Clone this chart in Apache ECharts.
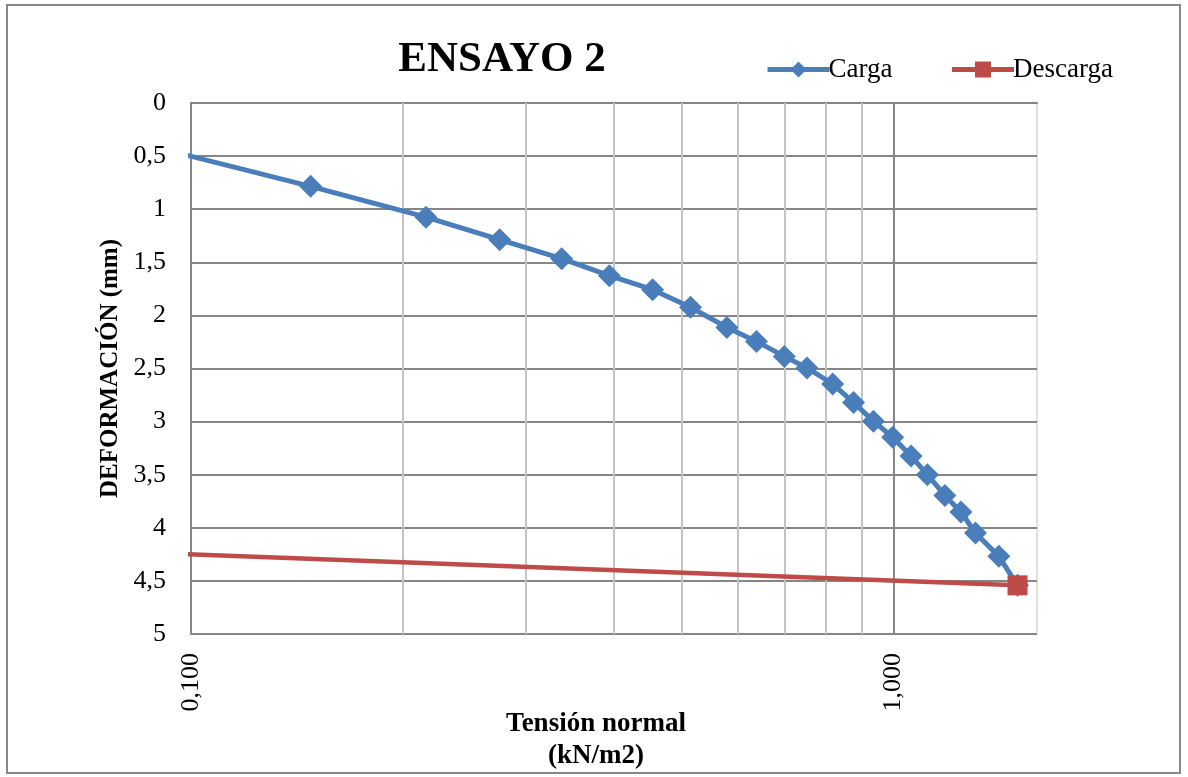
<!DOCTYPE html>
<html>
<head>
<meta charset="utf-8">
<title>ENSAYO 2</title>
<script src="https://cdn.jsdelivr.net/npm/echarts@6/dist/echarts.min.js"></script>
<style>
  html, body { margin: 0; padding: 0; background: #fff; }
  #chart { width: 1188px; height: 777px; }
</style>
</head>
<body>
<div id="chart"></div>
<script>
// Tensión normal (kN/m2) vs deformación (mm)
const cargaX = [0.05, 0.148, 0.216, 0.275, 0.337, 0.394, 0.454, 0.514, 0.579, 0.638, 0.699,
  0.753, 0.819, 0.877, 0.936, 0.997, 1.059, 1.117, 1.183, 1.247, 1.308, 1.412, 1.501]
const cargaY = [0, 0.785, 1.075, 1.287, 1.466, 1.626, 1.758, 1.923, 2.113, 2.245, 2.386,
  2.495, 2.646, 2.82, 2.996, 3.147, 3.325, 3.5, 3.695, 3.851, 4.049, 4.269, 4.542]
const descargaX = [1.501, 0.01]
const descargaY = [4.542, 4.0]

const majorX = [1]
const minorX = [0.2, 0.3, 0.4, 0.5, 0.6, 0.7, 0.8, 0.9]

const FONT = 'Liberation Serif'
const zip = (xs, ys) => xs.map((x, i) => [x, ys[i]])

const chart = echarts.init(document.getElementById('chart'))

const option = {
  backgroundColor: '#fff',
  animation: false,
  textStyle: { fontFamily: FONT, color: '#000' },
  graphic: [
    {
      type: 'rect',
      shape: { x: 7, y: 5, width: 1173, height: 768 },
      style: { fill: 'none', stroke: '#888', lineWidth: 2 },
      silent: true,
    },
  ],
  title: [
    {
      text: 'ENSAYO 2',
      left: 497,
      top: 33,
      textAlign: 'center',
      textStyle: { fontFamily: FONT, fontSize: 43, fontWeight: 'bold', color: '#000' },
    },
    {
      text: 'Tensión normal\n(kN/m2)',
      left: 591,
      top: 703,
      textAlign: 'center',
      textStyle: { fontFamily: FONT, fontSize: 27, fontWeight: 'bold', color: '#000', lineHeight: 32 },
    },
  ],
  legend: {
    left: 760,
    top: 51,
    itemWidth: 62,
    itemHeight: 20,
    itemGap: 57,
    lineStyle: { width: 5 },
    textStyle: { fontFamily: FONT, fontSize: 27, color: '#000', padding: [0, 0, 0, -6] },
    data: ['Carga', 'Descarga'],
  },
  grid: {
    left: 191,
    right: 151,
    top: 103,
    bottom: 143,
    show: true,
    borderColor: '#c4c4c4',
    borderWidth: 1,
  },
  xAxis: [
    {
      type: 'log',
      logBase: 10,
      min: 0.1,
      max: 1.6,
      position: 'bottom',
      axisLine: { show: false, onZero: false },
      axisTick: { show: false },
      splitLine: { show: false },
      axisLabel: {
        rotate: 90,
        margin: 19,
        fontFamily: FONT,
        fontSize: 26,
        color: '#000',
        formatter: (v) => {
          const l = Math.log10(v)
          return Math.abs(l - Math.round(l)) < 1e-6 ? v.toFixed(3).replace('.', ',') : ''
        },
      },
    },
    {
      type: 'log',
      logBase: 10,
      min: 0.1,
      max: 1.6,
      position: 'top',
      axisLine: { show: true, onZero: false, lineStyle: { color: '#868686', width: 2 } },
      axisTick: { show: false },
      axisLabel: { show: false },
      splitLine: { show: false },
    },
  ],
  yAxis: {
    type: 'value',
    inverse: true,
    min: 0,
    max: 5,
    interval: 0.5,
    name: 'DEFORMACIÓN (mm)',
    nameLocation: 'middle',
    nameGap: 63,
    nameTextStyle: { fontFamily: FONT, fontSize: 25, fontWeight: 'bold', color: '#000' },
    axisLine: { show: true, lineStyle: { color: '#868686', width: 2 } },
    axisTick: { show: false },
    axisLabel: {
      margin: 25,
      fontFamily: FONT,
      fontSize: 26,
      color: '#000',
      formatter: (v) => String(v).replace('.', ','),
    },
    splitLine: { lineStyle: { color: '#868686', width: 2 } },
  },
  series: [
    {
      name: 'Carga',
      type: 'line',
      data: zip(cargaX, cargaY),
      symbol: 'diamond',
      symbolSize: 23,
      lineStyle: { color: '#4a7ebb', width: 5 },
      itemStyle: { color: '#4a7ebb' },
      z: 4,
      markLine: {
        silent: true,
        symbol: 'none',
        label: { show: false },
        animation: false,
        z: 1,
        data: [
          ...minorX.map((v) => ({ xAxis: v, lineStyle: { color: '#c4c4c4', width: 2, type: 'solid' } })),
          ...majorX.map((v) => ({ xAxis: v, lineStyle: { color: '#868686', width: 2, type: 'solid' } })),
        ],
      },
    },
    {
      name: 'Descarga',
      type: 'line',
      data: zip(descargaX, descargaY),
      symbol: 'rect',
      symbolSize: 20,
      lineStyle: { color: '#be4b48', width: 4.5 },
      itemStyle: { color: '#be4b48' },
      z: 5,
    },
  ],
}

chart.setOption(option)
</script>
</body>
</html>
